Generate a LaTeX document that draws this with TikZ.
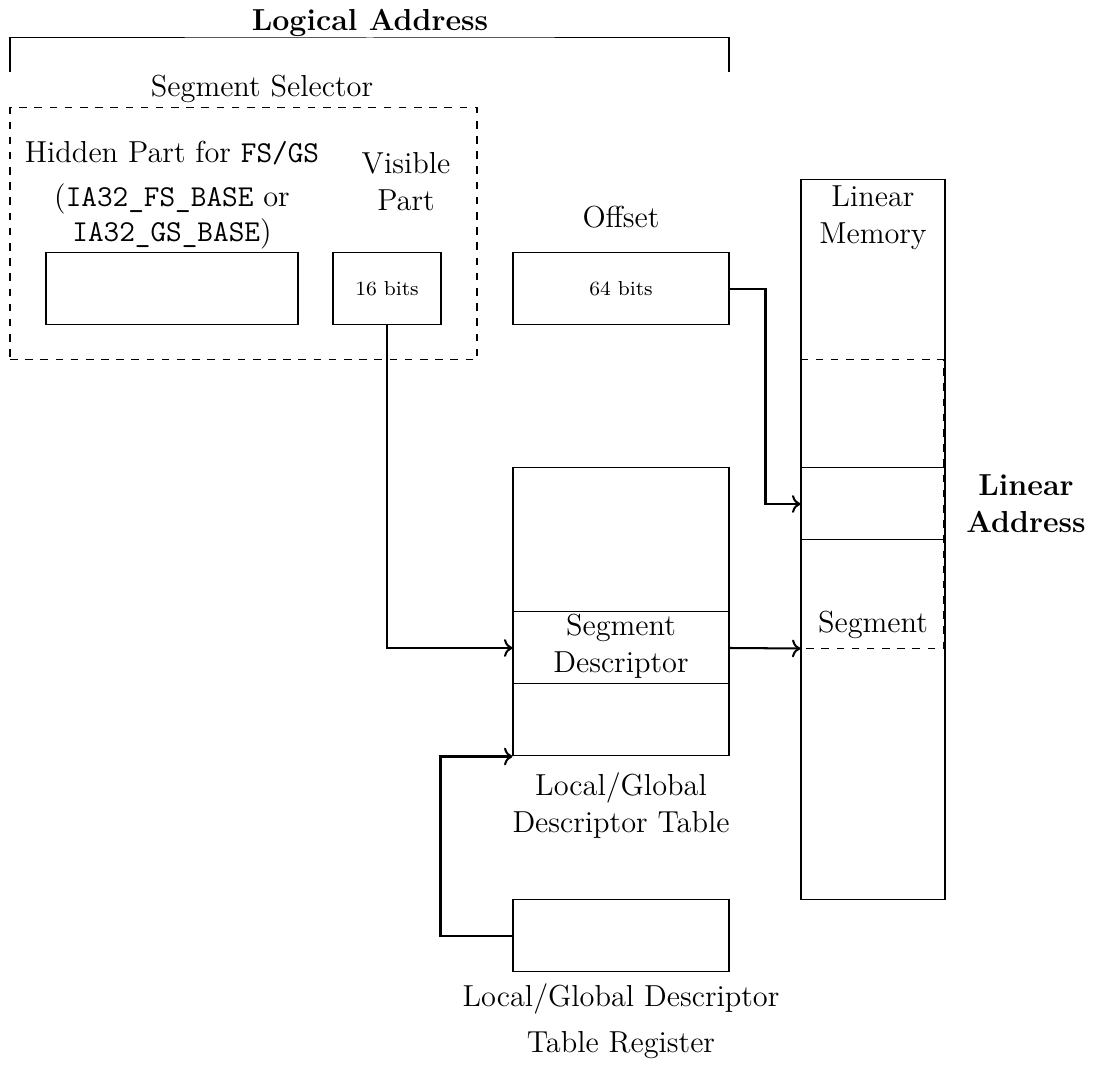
\documentclass[tikz,border=0pt]{standalone}
\usetikzlibrary{arrows.meta}
% one drawing unit
\def\pxu{0.138889mm}
\begin{document}
\begin{tikzpicture}[x=\pxu, y=-\pxu,
  bw/.style={minimum width=#1*\pxu},
  bh/.style={minimum height=#1*\pxu},
  box/.style={draw, inner sep=0pt},
  txt/.style={font=\fontsize{12}{15}\selectfont, align=center, inner sep=0pt},
  lbl/.style={txt, anchor=base},
  small/.style={font=\footnotesize},
  arr/.style={thick, ->},
]
\useasboundingbox (0,0) rectangle (1094,1069);

% logical address bracket
\node[lbl, font=\fontsize{12}{15}\selectfont\bfseries] (logical) at (370,31) {Logical Address};
\coordinate (brl) at (10,72);
\coordinate (brr) at (729,72);
\draw (brl) |- (370,38) -| (brr);

% segment selector (multi-line labels sit on the baseline of their last line)
\node[lbl] (selt) at (262,97) {Segment Selector};
\node[draw, dashed, inner sep=0pt, bw=467, bh=252] (sel) at (243.5,234) {};

\node[lbl, font=\fontsize{12}{14}\selectfont] (hidt) at (172,242) {Hidden Part for \texttt{FS/GS}\\[3.4pt](\texttt{IA32\_FS\_BASE} or\\\texttt{IA32\_GS\_BASE})};
\node[box, bw=252, bh=72] (hidden) at (172,289) {};

\node[lbl] (vist) at (406,211) {Visible\\Part};
\node[box, bw=108, bh=72, small] (bits16) at (387,289) {16 bits};

% offset
\node[lbl] (offt) at (621,228) {Offset};
\node[box, bw=216, bh=72, small] (bits64) at (621,289) {64 bits};

% linear memory
\node[box, bw=144, bh=720] (mem) at (873,540) {};
\node[lbl] (memt) at (873,244) {Linear\\Memory};
\node[inner sep=0pt, bw=144, bh=288] (seg) at (873,504) {};
\draw[dashed] (seg.north west) -- ([xshift=-2*\pxu]seg.north east) -- ([xshift=-2*\pxu]seg.south east) -- (seg.south west);
\node[box, bw=144, bh=72] (laddr) at (873,504) {};
\node[lbl] (segt) at (873,633) {Segment};
\node[lbl, font=\fontsize{12}{15}\selectfont\bfseries] (laddrt) at (1026,533) {Linear\\Address};

% descriptor table
\node[box, bw=216, bh=288] (ldt) at (621,612) {};
\node[box, bw=216, bh=72] (sd) at (621,648) {};
\node[lbl] (sdt) at (621,673) {Segment\\Descriptor};
\node[lbl] (ldtt) at (621,833) {Local/Global\\Descriptor Table};

% descriptor table register
\node[box, bw=216, bh=72] (ldtr) at (621,936) {};
\node[lbl] (ldtrt) at (621,1053) {Local/Global Descriptor\\[3.2pt]Table Register};

% connectors
\draw[arr] (bits16.south) |- (sd.west);
\draw[arr] (bits64.east) -- ++(36,0) |- (laddr.west);
\draw[arr] (sd.east) -- (seg.south west);
\draw[arr] (ldtr.west) -- ++(-72,0) |- (ldt.south west);
\end{tikzpicture}
\end{document}
